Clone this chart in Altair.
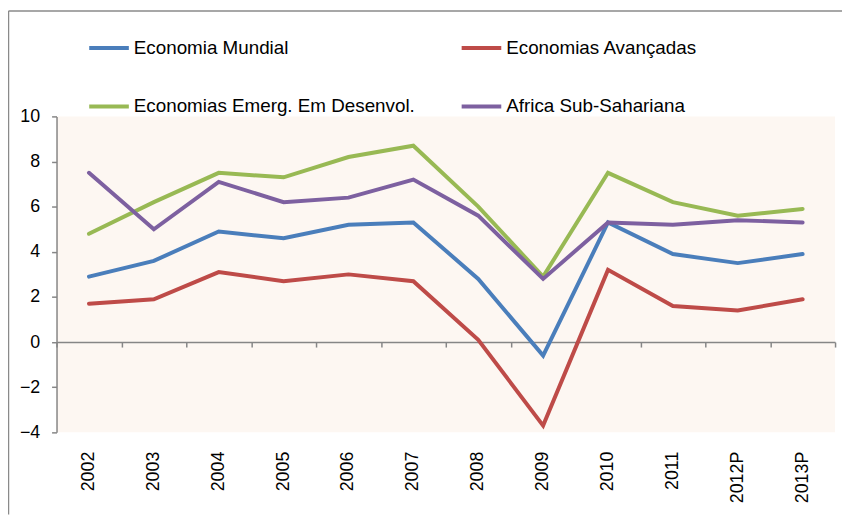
import altair as alt
import pandas as pd

years = ["2002", "2003", "2004", "2005", "2006", "2007", "2008", "2009", "2010", "2011", "2012P", "2013P"]
series_names = ["Economia Mundial", "Economias Avançadas", "Economias Emerg. Em Desenvol.", "Africa Sub-Sahariana"]
mundial = [2.9, 3.6, 4.9, 4.6, 5.2, 5.3, 2.8, -0.6, 5.3, 3.9, 3.5, 3.9]
avancadas = [1.7, 1.9, 3.1, 2.7, 3.0, 2.7, 0.1, -3.7, 3.2, 1.6, 1.4, 1.9]
emergentes = [4.8, 6.2, 7.5, 7.3, 8.2, 8.7, 6.0, 2.9, 7.5, 6.2, 5.6, 5.9]
africa = [7.5, 5.0, 7.1, 6.2, 6.4, 7.2, 5.6, 2.8, 5.3, 5.2, 5.4, 5.3]
colors = ["#4A7EBB", "#BE4B48", "#98B954", "#7D60A0"]
y_ticks = [-4, -2, 0, 2, 4, 6, 8, 10]

rows = []
for name, vals in zip(series_names, [mundial, avancadas, emergentes, africa]):
    for yr, v in zip(years, vals):
        rows.append({"year": yr, "series": name, "value": v})
df = pd.DataFrame(rows)

W, H = 786, 319
GRAY = "#868686"
FONT = "Liberation Sans"
BG = "#FDF7F2"

x_scale = alt.Scale(type="band", paddingInner=0, paddingOuter=0)
y_enc = alt.Y(
    "value:Q",
    scale=alt.Scale(domain=[-4, 10], nice=False, zero=False),
    axis=alt.Axis(values=y_ticks, title=None, grid=False, tickSize=5, labelPadding=12,
                  domainColor=GRAY, tickColor=GRAY, domainWidth=1.5, tickWidth=1.5,
                  labelFont=FONT, labelFontSize=18, labelColor="black"),
)

lines = alt.Chart(df).mark_line(strokeWidth=4, strokeCap="round", strokeJoin="miter").encode(
    x=alt.X("year:N", sort=years, scale=x_scale, bandPosition=0.5,
            axis=alt.Axis(orient="bottom", title=None, domain=False, ticks=False, tickSize=0,
                          labelAngle=-90, labelPadding=19, labelFont=FONT, labelFontSize=18,
                          labelColor="black")),
    y=y_enc,
    color=alt.Color("series:N", sort=series_names,
                    scale=alt.Scale(domain=series_names, range=colors),
                    legend=alt.Legend(title=None, orient="none", legendX=31, legendY=-91,
                                      direction="horizontal",
                                      columns=2, columnPadding=38, rowPadding=27,
                                      symbolType="stroke", symbolSize=1600, symbolStrokeWidth=4,
                                      labelOffset=3, labelFont=FONT, labelFontSize=19,
                                      labelColor="black", labelLimit=500, padding=0)),
)

zero_axis = alt.Chart(df).mark_line(strokeOpacity=0).encode(
    x=alt.X("year:N", sort=years, scale=x_scale, bandPosition=0.5,
            axis=alt.Axis(orient="bottom", title=None, labels=False, domain=True, ticks=True,
                          tickBand="extent", tickSize=5, offset=-(H * 4 / 14),
                          domainColor=GRAY, tickColor=GRAY, domainWidth=1.5, tickWidth=1.5)),
    y=y_enc,
    detail="series:N",
)

frame_df = pd.DataFrame({"k": [0]})
frame_left = alt.Chart(frame_df).mark_rule(color="#8a8a8a", strokeWidth=1.5).encode(
    x=alt.value(-48.5), x2=alt.value(-48.5), y=alt.value(-106.5), y2=alt.value(H + 83))
frame_top = alt.Chart(frame_df).mark_rule(color="#8a8a8a", strokeWidth=1.5).encode(
    x=alt.value(-48.5), x2=alt.value(W + 7), y=alt.value(-106.5), y2=alt.value(-106.5))

chart = alt.layer(zero_axis, lines, frame_left, frame_top).resolve_axis(x="independent").properties(
    width=W, height=H,
    padding={"left": 49, "top": 107, "right": 7, "bottom": 83},
    autosize=alt.AutoSizeParams(type="none"),
    view=alt.ViewBackground(fill=BG, stroke=None),
).configure_view(stroke=None, fill=BG).configure(background="white")

chart.save("out.html", embed_options={"renderer": "svg", "actions": False})
